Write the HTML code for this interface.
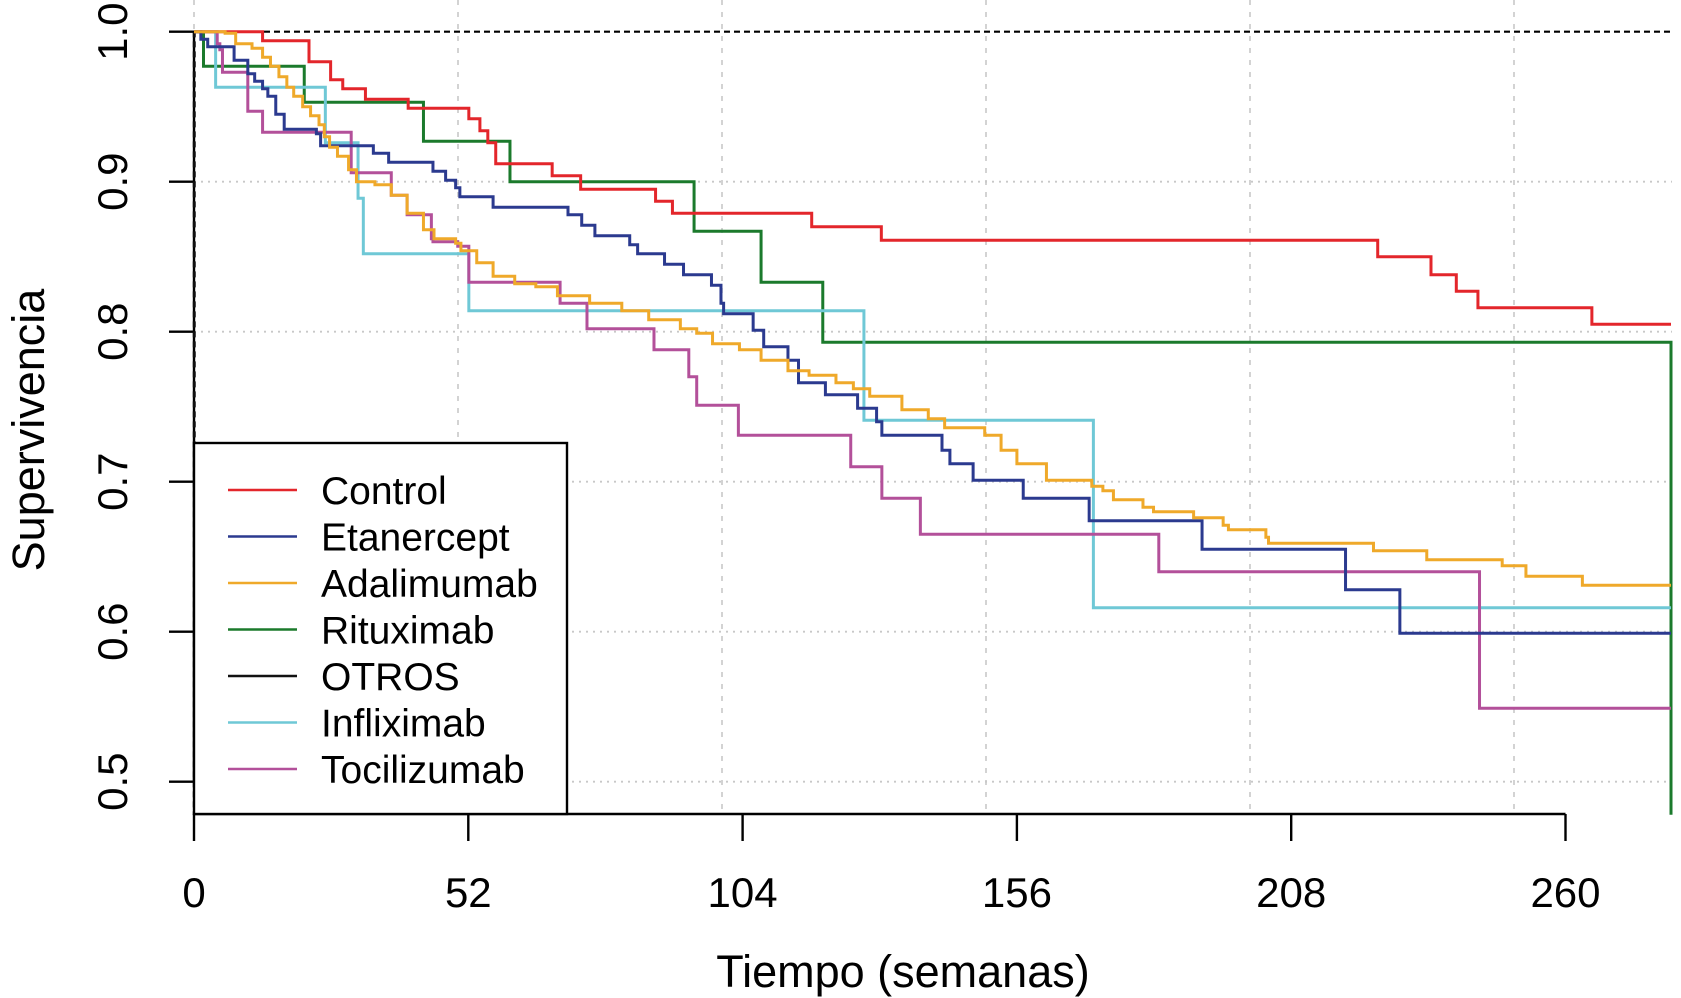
<!DOCTYPE html>
<html><head><meta charset="utf-8"><style>
body{margin:0;background:#fff}
svg{display:block;font-family:"Liberation Sans",Arial,sans-serif}
</style></head><body>
<svg id="chart" width="1681" height="998" viewBox="0 0 1681 998" xmlns="http://www.w3.org/2000/svg">
<g id="grid"></g>
<g id="axes"></g>
<g id="series"></g>
<g id="legend"></g>
</svg>
<script>
const xTicks=[0,52,104,156,208,260];
const yTicks=[0.5,0.6,0.7,0.8,0.9,1.0];
const yTickLabels=["0.5","0.6","0.7","0.8","0.9","1.0"];
const gridXWeeks=[0,50,100,150,200,250];
const tEnd=280;
const controlT=[13,21.8,25.9,28.2,32.5,40.6,52.1,54.2,55.7,57.2,67.9,73.3,87.5,90.7,117.1,130.3,224.4,234.5,239.3,243.4,265.0];
const controlS=[0.994,0.980,0.968,0.962,0.955,0.949,0.942,0.934,0.926,0.912,0.904,0.895,0.887,0.879,0.870,0.861,0.850,0.838,0.827,0.816,0.805];
const etanT=[1.3,2.6,7.6,10.2,11.5,13.0,14.0,15.5,17.1,23.2,24.0,34.0,36.9,45.3,47.7,49.6,50.4,56.7,70.9,73.5,76.0,82.6,84.1,89.2,92.8,98.1,99.9,100.4,106.0,108.0,112.6,114.6,119.7,125.8,129.4,130.4,141.8,143.3,147.7,157.2,169.7,191.1,218.3,228.6];
const etanS=[0.995,0.990,0.981,0.972,0.967,0.962,0.957,0.945,0.935,0.932,0.924,0.919,0.913,0.907,0.901,0.896,0.890,0.883,0.878,0.871,0.864,0.858,0.852,0.845,0.838,0.831,0.819,0.812,0.801,0.790,0.781,0.766,0.758,0.749,0.740,0.731,0.721,0.712,0.701,0.689,0.674,0.655,0.628,0.599];
const adaT=[5.9,7.9,11.0,13.0,14.5,16.1,17.6,18.9,20.6,22.1,23.7,24.7,25.7,27.2,29.3,30.8,34.3,37.4,40.4,43.5,45.5,49.6,50.6,53.6,56.7,60.8,64.8,68.9,75.0,81.1,86.2,92.2,95.3,98.3,103.4,107.5,112.6,116.6,121.7,125.0,128.1,134.2,139.2,142.3,149.9,153.0,156.0,161.6,170.2,172.3,174.3,179.9,181.9,189.5,195.1,196.1,203.2,203.7,223.6,233.7,248.0,252.5,263.2];
const adaS=[0.999,0.992,0.989,0.983,0.977,0.970,0.963,0.957,0.950,0.944,0.938,0.930,0.923,0.917,0.908,0.900,0.898,0.891,0.879,0.868,0.862,0.859,0.854,0.846,0.837,0.832,0.830,0.824,0.819,0.814,0.808,0.802,0.799,0.792,0.788,0.781,0.774,0.771,0.766,0.762,0.757,0.748,0.742,0.736,0.731,0.721,0.712,0.701,0.697,0.694,0.688,0.683,0.680,0.676,0.671,0.668,0.663,0.659,0.654,0.648,0.644,0.637,0.631];
const rituT=[1.8,20.9,43.5,59.9,94.8,107.5,119.2,280];
const rituS=[0.977,0.953,0.927,0.900,0.867,0.833,0.793,0.478];
const otrosT=[0.05];
const otrosS=[0.478];
const inflT=[4.1,24.9,31.1,32.1,52.1,127.0,170.5];
const inflS=[0.963,0.926,0.889,0.852,0.814,0.741,0.616];
const tociT=[4.4,4.9,5.4,10.2,13.0,29.8,37.4,40.4,45.0,45.3,50.0,52.1,69.4,74.5,87.2,93.8,95.3,103.2,124.5,130.4,137.7,182.9,243.7];
const tociS=[0.992,0.988,0.973,0.947,0.933,0.906,0.891,0.878,0.862,0.860,0.857,0.833,0.819,0.802,0.788,0.770,0.751,0.731,0.710,0.689,0.665,0.640,0.549];
const names=["Control","Etanercept","Adalimumab","Rituximab","OTROS","Infliximab","Tocilizumab"];
const colors=["#e3262b","#2b3a8f","#efa92a","#1b7a2c","#111111","#6fc8d6","#b3509a"];
const allT=[controlT,etanT,adaT,rituT,otrosT,inflT,tociT];
const allS=[controlS,etanS,adaS,rituS,otrosS,inflS,tociS];

const NS="http://www.w3.org/2000/svg";
const X0=194,XS=5.275,Y1=31.7,YS=1500;
function xs(t){return X0+t*XS;}
function ys(s){return Y1+(1-s)*YS;}
function mk(tag,attrs,parent){const e=document.createElementNS(NS,tag);for(const k in attrs)e.setAttribute(k,attrs[k]);parent.appendChild(e);return e;}
const grid=document.getElementById('grid'),axes=document.getElementById('axes'),series=document.getElementById('series'),legend=document.getElementById('legend');

gridXWeeks.forEach(w=>{
 const gx=X0+w*5.28;
 const l=mk('line',{x1:gx,x2:gx,y1:0,y2:814,stroke:'#c8c8c8','stroke-width':1.6,'stroke-dasharray':'5,7'},grid);
 
 
});
yTicks.slice(0,5).forEach(v=>{
 const l=mk('line',{x1:X0,x2:1672,y1:ys(v),y2:ys(v),stroke:'#c8c8c8','stroke-width':1.8,'stroke-dasharray':'2,5'},grid);
 
 
});

let a=mk('line',{x1:X0,x2:xs(260),y1:814,y2:814,stroke:'#000','stroke-width':2.4},axes);


a=mk('line',{x1:X0,x2:X0,y1:ys(1),y2:ys(0.5),stroke:'#000','stroke-width':2.4},axes);


xTicks.forEach(t=>{
 const tk=mk('line',{x1:xs(t),x2:xs(t),y1:814,y2:841,stroke:'#000','stroke-width':2.4},axes);
 
 
 const tx=mk('text',{x:xs(t),y:907,'text-anchor':'middle','font-size':42,fill:'#000'},axes);
 tx.textContent=String(t);
 
 
});
yTicks.forEach((v,i)=>{
 const tk=mk('line',{x1:169,x2:X0,y1:ys(v),y2:ys(v),stroke:'#000','stroke-width':2.4},axes);
 
 
 const tx=mk('text',{x:0,y:0,'text-anchor':'middle','font-size':42,fill:'#000',transform:`translate(127,${ys(v)}) rotate(-90)`},axes);
 tx.textContent=yTickLabels[i];
 
 
});
let tt=mk('text',{x:903,y:987,'text-anchor':'middle','font-size':45,fill:'#000'},axes);
tt.textContent='Tiempo (semanas)';


tt=mk('text',{x:0,y:0,'text-anchor':'middle','font-size':45,fill:'#000',transform:'translate(44,430) rotate(-90)'},axes);
tt.textContent='Supervivencia';



let ref=mk('line',{x1:X0,x2:xs(tEnd),y1:ys(1),y2:ys(1),stroke:'#000','stroke-width':2.2,'stroke-dasharray':'6,4'},series);



[4,3,5,0,6,1,2].forEach(i=>{
 const T=allT[i],S=allS[i];
 let d=`M${xs(0)},${ys(1)}`;
 T.forEach((t,j)=>{d+=` H${xs(t)} V${ys(S[j])}`;});
 if(i!==4 && T[T.length-1]<tEnd) d+=` H${xs(tEnd)}`;
 const p=mk('path',{d:d,fill:'none',stroke:colors[i],'stroke-width':3,'stroke-dasharray':i===4?'6,4':'none'},series);
 
 
});

const lb=mk('rect',{x:194,y:443,width:373,height:371,fill:'#fff',stroke:'#000','stroke-width':2.4},legend);


names.forEach((n,i)=>{
 const cy=490+i*46.5;
 const g=mk('g',{},legend);
 
 
 mk('line',{x1:228,x2:297,y1:cy,y2:cy,stroke:colors[i],'stroke-width':2.6},g);
 const t=mk('text',{x:321,y:cy+14,'font-size':39,fill:'#000'},g);
 t.textContent=n;
});
</script>
</body></html>
